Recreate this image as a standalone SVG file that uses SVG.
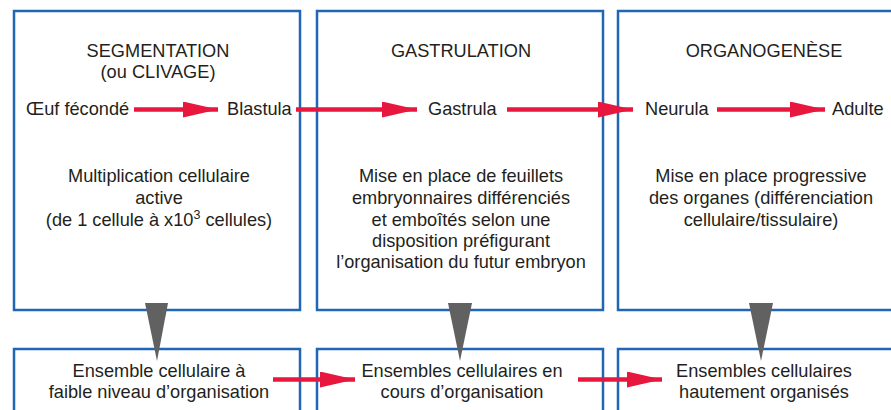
<svg xmlns="http://www.w3.org/2000/svg" width="891" height="410" viewBox="0 0 891 410">
<style>
.box{fill:#fff;stroke:#2066b4;stroke-width:2.5}
text{font-family:"Liberation Sans",Arial,sans-serif;font-size:18.2px;fill:#231f20}
.c{text-anchor:middle}
.red{stroke:#e8173e;stroke-width:4.5;fill:none}
.tri{fill:#616161}
</style>
<defs>
<marker id="ah" markerUnits="userSpaceOnUse" markerWidth="36" markerHeight="18" refX="35" refY="8" orient="auto">
<path d="M0,0 L35,8 L0,16 Z" fill="#e8173e"/>
</marker>
</defs>
<rect width="891" height="410" fill="#fff"/>
<g id="seg">
<rect class="box" x="14" y="11" width="286" height="299"/>
<text class="c" x="158" y="57">SEGMENTATION</text>
<text class="c" x="158" y="78">(ou CLIVAGE)</text>
<text x="26" y="115">Œuf fécondé</text>
<text x="227" y="115">Blastula</text>
<text class="c" x="159" y="182">Multiplication cellulaire</text>
<text class="c" x="159" y="204">active</text>
<text class="c" x="159" y="226">(de 1 cellule à x10<tspan dy="-7" font-size="12.5">3</tspan><tspan dy="7"> cellules)</tspan></text>
</g>
<g id="gas">
<rect class="box" x="317" y="11" width="286" height="299"/>
<text class="c" x="461" y="57">GASTRULATION</text>
<text x="428" y="115">Gastrula</text>
<text class="c" x="461" y="182">Mise en place de feuillets</text>
<text class="c" x="461" y="204">embryonnaires différenciés</text>
<text class="c" x="461" y="226">et emboîtés selon une</text>
<text class="c" x="461" y="247">disposition préfigurant</text>
<text class="c" x="461" y="268">l’organisation du futur embryon</text>
</g>
<g id="org">
<rect class="box" x="618" y="11" width="290" height="299"/>
<text class="c" x="764" y="57">ORGANOGENÈSE</text>
<text x="645" y="115">Neurula</text>
<text x="832" y="115">Adulte</text>
<text class="c" x="761" y="182">Mise en place progressive</text>
<text class="c" x="761" y="204">des organes (différenciation</text>
<text class="c" x="761" y="226">cellulaire/tissulaire)</text>
</g>
<g id="b1">
<rect class="box" x="14" y="349" width="286" height="80"/>
<text class="c" x="159" y="377">Ensemble cellulaire à</text>
<text class="c" x="159" y="398">faible niveau d’organisation</text>
</g>
<g id="b2">
<rect class="box" x="317" y="349" width="286" height="80"/>
<text class="c" x="462" y="377">Ensembles cellulaires en</text>
<text class="c" x="462" y="398">cours d’organisation</text>
</g>
<g id="b3">
<rect class="box" x="618" y="349" width="290" height="80"/>
<text class="c" x="764" y="377">Ensembles cellulaires</text>
<text class="c" x="764" y="398">hautement organisés</text>
</g>
<g id="connectors">
<path class="red" d="M134,109.5 H218" marker-end="url(#ah)"/>
<path class="red" d="M296,109.5 H417" marker-end="url(#ah)"/>
<path class="red" d="M507,109.5 H633" marker-end="url(#ah)"/>
<path class="red" d="M717,109.5 H825" marker-end="url(#ah)"/>
<path class="red" d="M273,379.5 H355" marker-end="url(#ah)"/>
<path class="red" d="M578,379.5 H662" marker-end="url(#ah)"/>
<path class="tri" d="M145,303 L168,303 L157,361 Z"/>
<path class="tri" d="M448,303 L472,303 L460,361 Z"/>
<path class="tri" d="M749,303 L773,303 L761,361 Z"/>
</g>
</svg>
